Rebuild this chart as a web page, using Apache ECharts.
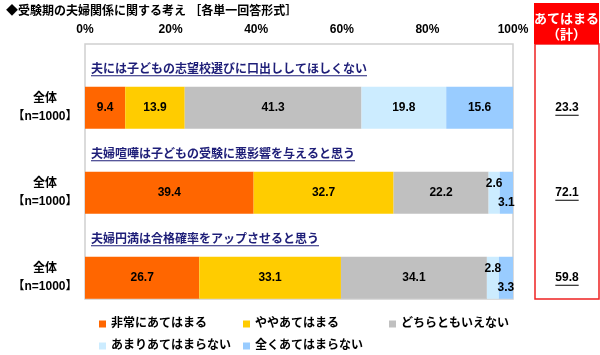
<!DOCTYPE html>
<html>
<head>
<meta charset="utf-8">
<script src="https://cdn.jsdelivr.net/npm/echarts@6/dist/echarts.min.js"></script>
<style>html,body{margin:0;padding:0;background:#fff}#c{width:600px;height:355px}</style>
</head>
<body>
<div id="c"></div>
<script>
const titleText = '◆受験期の夫婦関係に関する考え ［各単一回答形式］';
const rowLabel = '全体\n【n=1000】';
const questions = [
  '夫には子どもの志望校選びに口出ししてほしくない',
  '夫婦喧嘩は子どもの受験に悪影響を与えると思う',
  '夫婦円満は合格確率をアップさせると思う'
];
const seriesNames = ['非常にあてはまる', 'ややあてはまる', 'どちらともいえない', 'あまりあてはまらない', '全くあてはまらない'];
const veryTrue = [9.4, 39.4, 26.7];
const someTrue = [13.9, 32.7, 33.1];
const neither = [41.3, 22.2, 34.1];
const notMuch = [19.8, 2.6, 2.8];
const notAtAll = [15.6, 3.1, 3.3];
const totals = [23.3, 72.1, 59.8];
const xTicks = [0, 20, 40, 60, 80, 100];
const boxHeader = 'あてはまる\n（計）';

const colors = ['#FF6600', '#FFCC00', '#C0C0C0', '#CCECFF', '#99CCFF'];
const FONT = "'Liberation Sans', 'Noto Sans CJK JP', sans-serif";
const allValues = [veryTrue, someTrue, neither, notMuch, notAtAll];

// rows: label row then bar row for each question
const rows = [];
questions.forEach((q, i) => { rows.push('L' + i); rows.push('B' + i); });

const mctx = document.createElement('canvas').getContext('2d');
function measure(t, size) { mctx.font = 'bold ' + size + 'px ' + FONT; return mctx.measureText(t).width; }

const barSeries = seriesNames.map((name, si) => ({
  name: name,
  type: 'bar',
  stack: 'all',
  barWidth: 42,
  xAxisIndex: 0, yAxisIndex: 0,
  itemStyle: { color: colors[si] },
  data: rows.map((r) => {
    if (r[0] === 'L') return '-';
    const qi = +r.slice(1);
    const v = allValues[si][qi];
    const item = { value: v };
    if (v < 5) {
      item.label = { offset: [0, si === 3 ? -9 : 10] };
    }
    return item;
  }),
  label: {
    show: true, position: 'inside', color: '#000', fontWeight: 'bold', fontSize: 12, fontFamily: FONT,
    formatter: (p) => p.value.toFixed(1)
  }
}));

const questionSeries = {
  type: 'custom',
  xAxisIndex: 0, yAxisIndex: 0,
  silent: true,
  data: questions.map((q, i) => [0, 2 * i, i]),
  renderItem: function (params, api) {
    const p = api.coord([0, api.value(1)]);
    const t = questions[api.value(2)];
    const w = measure(t, 12);
    const x = p[0] + 6, y = p[1] + 4;
    return {
      type: 'group', children: [
        { type: 'text', x: x, y: y, style: { text: t, fill: '#1E1E78', font: 'bold 12px ' + FONT, align: 'left', verticalAlign: 'middle' } },
        { type: 'line', shape: { x1: x, y1: y + 6.5, x2: x + w, y2: y + 6.5 }, style: { stroke: '#1E1E78', lineWidth: 1 } }
      ]
    };
  }
};

const totalSeries = {
  type: 'custom',
  xAxisIndex: 1, yAxisIndex: 1,
  silent: true,
  data: totals.map((v, i) => [0.5, 2 * i + 1, v]),
  renderItem: function (params, api) {
    const p = api.coord([0.5, api.value(1)]);
    const t = api.value(2).toFixed(1);
    const w = measure(t, 12);
    return {
      type: 'group', children: [
        { type: 'text', x: p[0], y: p[1], style: { text: t, fill: '#000', font: 'bold 12px ' + FONT, align: 'center', verticalAlign: 'middle' } },
        { type: 'line', shape: { x1: p[0] - w / 2, y1: p[1] + 7.5, x2: p[0] + w / 2, y2: p[1] + 7.5 }, style: { stroke: '#000', lineWidth: 1 } }
      ]
    };
  }
};

const legendPos = [[99, 318], [243, 318], [389, 318], [99, 340], [243, 340]];
const legends = seriesNames.map((n, i) => ({
  data: [n], left: legendPos[i][0], top: legendPos[i][1], padding: 0,
  icon: 'rect', itemWidth: 7, itemHeight: 7, selectedMode: false,
  textStyle: { color: '#000', fontWeight: 'bold', fontSize: 12, fontFamily: FONT }
}));

const chart = echarts.init(document.getElementById('c'), null, { renderer: 'canvas' });
chart.setOption({
  animation: false,
  backgroundColor: '#fff',
  title: { text: titleText, left: 6, top: 6, padding: 0, textStyle: { fontSize: 12, fontWeight: 'bold', color: '#000', fontFamily: FONT } },
  legend: legends,
  grid: [
    { left: 85, right: 87, top: 44, bottom: 56, show: true, borderColor: '#D0D0D0', borderWidth: 1.5, backgroundColor: '#fff' },
    { left: 535, right: 1, top: 44, bottom: 56, show: true, borderColor: '#EE2222', borderWidth: 1.5, backgroundColor: '#fff' }
  ],
  xAxis: [
    {
      gridIndex: 0, type: 'value', position: 'top', min: xTicks[0], max: xTicks[xTicks.length - 1], interval: 20,
      axisLine: { show: false }, axisTick: { show: false }, splitLine: { show: false },
      axisLabel: { formatter: '{value}%', color: '#000', fontWeight: 'bold', fontSize: 12, fontFamily: FONT, margin: 8 }
    },
    { gridIndex: 1, type: 'value', min: 0, max: 1, show: false }
  ],
  yAxis: [
    {
      gridIndex: 0, type: 'category', data: rows, inverse: true,
      axisLine: { show: false }, axisTick: { show: false }, splitLine: { show: false },
      axisLabel: {
        margin: 40, align: 'center', color: '#000', fontWeight: 'bold', fontSize: 12, lineHeight: 18, fontFamily: FONT,
        formatter: (v) => v[0] === 'B' ? rowLabel : ''
      }
    },
    { gridIndex: 1, type: 'category', data: rows, inverse: true, show: false }
  ],
  graphic: [
    {
      type: 'group', left: 534, top: 3, children: [
        { type: 'rect', shape: { x: 0, y: 0, width: 65, height: 41 }, style: { fill: '#FF0000' } },
        { type: 'text', x: 32.5, y: 24, style: { text: boxHeader, fill: '#fff', font: 'bold 13px ' + FONT, align: 'center', verticalAlign: 'middle', lineHeight: 16 } }
      ]
    }
  ],
  series: barSeries.concat([questionSeries, totalSeries])
});
</script>
</body>
</html>
